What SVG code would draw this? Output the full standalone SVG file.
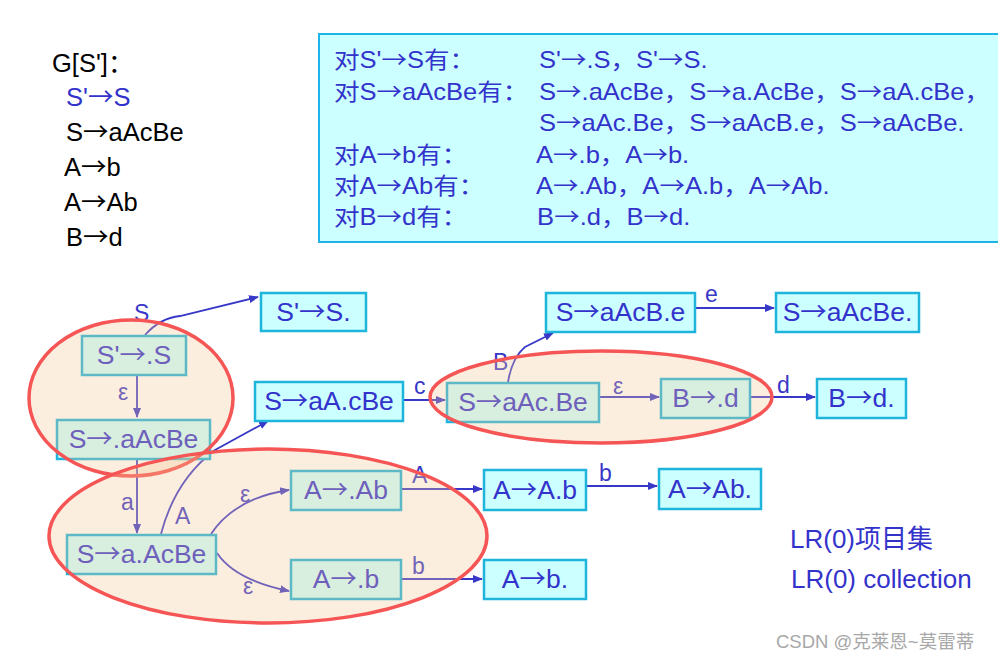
<svg xmlns="http://www.w3.org/2000/svg" width="998" height="664" viewBox="0 0 998 664">
<style>
text{font-family:"Liberation Sans","Noto Sans CJK SC",Arial,sans-serif}
.a{font-family:"Noto Sans CJK SC","DejaVu Sans",sans-serif}
.g{font-size:25.5px;fill:#000}
.p{font-size:23px;fill:#3333cc}
.box{fill:#ccffff;stroke:#1eb4dc;stroke-width:2.5}
.nt{font-size:26.5px;fill:#3333cc;text-anchor:middle}
.e{fill:none;stroke:#3838c8;stroke-width:1.8}
.lb{font-size:23px;fill:#3838c8}
.ell{fill:rgb(246,200,150);fill-opacity:0.3;stroke:#f55555;stroke-width:3.5}
</style>
<defs>
<marker id="ah" viewBox="0 0 10 10" refX="9" refY="5" markerWidth="10" markerHeight="10" markerUnits="userSpaceOnUse" orient="auto">
<path d="M0,1 L10,5 L0,9 z" fill="#3838c8"/>
</marker>
</defs>
<rect width="998" height="664" fill="#fff"/>
<g id="grammar">
<text class="g" x="52" y="72">G[S']：</text>
<text class="g" x="66" y="106" style="fill:#3333cc">S'<tspan class="a">→</tspan>S</text>
<text class="g" x="66" y="141">S<tspan class="a">→</tspan>aAcBe</text>
<text class="g" x="64" y="176">A<tspan class="a">→</tspan>b</text>
<text class="g" x="64" y="211">A<tspan class="a">→</tspan>Ab</text>
<text class="g" x="66" y="246">B<tspan class="a">→</tspan>d</text>
</g>
<g id="panel">
<rect x="319" y="34" width="690" height="208" fill="#ccffff" stroke="#1eb4e8" stroke-width="2"/>
<g transform="translate(334,0) scale(1.11,1)">
<text class="p" x="0" y="68">对S'<tspan class="a">→</tspan>S有：</text>
<text class="p" x="184.7" y="68">S'<tspan class="a">→</tspan>.S，S'<tspan class="a">→</tspan>S.</text>
<text class="p" x="0" y="100">对S<tspan class="a">→</tspan>aAcBe有：</text>
<text class="p" x="184.7" y="100">S<tspan class="a">→</tspan>.aAcBe，S<tspan class="a">→</tspan>a.AcBe，S<tspan class="a">→</tspan>aA.cBe，</text>
<text class="p" x="184.7" y="131">S<tspan class="a">→</tspan>aAc.Be，S<tspan class="a">→</tspan>aAcB.e，S<tspan class="a">→</tspan>aAcBe.</text>
<text class="p" x="0" y="163">对A<tspan class="a">→</tspan>b有：</text>
<text class="p" x="182" y="163">A<tspan class="a">→</tspan>.b，A<tspan class="a">→</tspan>b.</text>
<text class="p" x="0" y="194">对A<tspan class="a">→</tspan>Ab有：</text>
<text class="p" x="182" y="194">A<tspan class="a">→</tspan>.Ab，A<tspan class="a">→</tspan>A.b，A<tspan class="a">→</tspan>Ab.</text>
<text class="p" x="0" y="225">对B<tspan class="a">→</tspan>d有：</text>
<text class="p" x="183" y="225">B<tspan class="a">→</tspan>.d，B<tspan class="a">→</tspan>d.</text>
</g>
</g>
<g id="connectors">
<path class="e" d="M145,335 Q160,318 180,316 L258,297" marker-end="url(#ah)"/>
<text class="lb" x="134" y="321">S</text>
<path class="e" d="M137,376 L137,417" marker-end="url(#ah)"/>
<text class="lb" x="118" y="400">ε</text>
<path class="e" d="M137,460 L137,533" marker-end="url(#ah)"/>
<text class="lb" x="121" y="510">a</text>
<path class="e" d="M161,534 Q175,480 215,450 L268,421" marker-end="url(#ah)"/>
<text class="lb" x="175" y="524">A</text>
<path class="e" d="M211,534 Q235,498 289,490" marker-end="url(#ah)"/>
<text class="lb" x="240" y="502">ε</text>
<path class="e" d="M217,553 Q235,580 289,591" marker-end="url(#ah)"/>
<text class="lb" x="243" y="594">ε</text>
<path class="e" d="M401,489 L482,489" marker-end="url(#ah)"/>
<text class="lb" x="412" y="483">A</text>
<path class="e" d="M401,579 L482,579" marker-end="url(#ah)"/>
<text class="lb" x="412" y="574">b</text>
<path class="e" d="M586,486 L657,486" marker-end="url(#ah)"/>
<text class="lb" x="599" y="481">b</text>
<path class="e" d="M404,400 L445,400" marker-end="url(#ah)"/>
<text class="lb" x="414" y="394">c</text>
<path class="e" d="M508,382 Q512,358 525,347 L553,333" marker-end="url(#ah)"/>
<text class="lb" x="493" y="370">B</text>
<path class="e" d="M600,397 L659,397" marker-end="url(#ah)"/>
<text class="lb" x="613" y="394">ε</text>
<path class="e" d="M696,308 L774,308" marker-end="url(#ah)"/>
<text class="lb" x="705" y="302">e</text>
<path class="e" d="M751,397 L815,397" marker-end="url(#ah)"/>
<text class="lb" x="777" y="393">d</text>
</g>
<g id="n_Sp_S_dot"><rect class="box" x="261" y="293" width="105" height="38"/><text class="nt" x="313.5" y="321">S'<tspan class="a">→</tspan>S.</text></g>
<g id="n_Sp_dot_S"><rect class="box" x="82" y="336" width="104" height="39"/><text class="nt" x="134" y="364">S'<tspan class="a">→</tspan>.S</text></g>
<g id="n_S_dot_aAcBe"><rect class="box" x="57" y="420" width="153" height="39"/><text class="nt" x="133.5" y="448">S<tspan class="a">→</tspan>.aAcBe</text></g>
<g id="n_S_aA_dot_cBe"><rect class="box" x="255" y="382" width="148" height="39"/><text class="nt" x="329" y="410">S<tspan class="a">→</tspan>aA.cBe</text></g>
<g id="n_S_aAcB_dot_e"><rect class="box" x="546" y="293" width="149" height="39"/><text class="nt" x="620.5" y="321">S<tspan class="a">→</tspan>aAcB.e</text></g>
<g id="n_S_aAcBe_dot"><rect class="box" x="776" y="293" width="143" height="39"/><text class="nt" x="847.5" y="321">S<tspan class="a">→</tspan>aAcBe.</text></g>
<g id="n_S_aAc_dot_Be"><rect class="box" x="447" y="383" width="152" height="39"/><text class="nt" x="523" y="411">S<tspan class="a">→</tspan>aAc.Be</text></g>
<g id="n_B_dot_d"><rect class="box" x="661" y="379" width="89" height="39"/><text class="nt" x="705.5" y="407">B<tspan class="a">→</tspan>.d</text></g>
<g id="n_B_d_dot"><rect class="box" x="817" y="379" width="89" height="39"/><text class="nt" x="861.5" y="407">B<tspan class="a">→</tspan>d.</text></g>
<g id="n_A_dot_Ab"><rect class="box" x="291" y="471" width="110" height="39"/><text class="nt" x="346" y="499">A<tspan class="a">→</tspan>.Ab</text></g>
<g id="n_A_A_dot_b"><rect class="box" x="484" y="470" width="102" height="40"/><text class="nt" x="535" y="499">A<tspan class="a">→</tspan>A.b</text></g>
<g id="n_A_Ab_dot"><rect class="box" x="659" y="469" width="102" height="40"/><text class="nt" x="710" y="498">A<tspan class="a">→</tspan>Ab.</text></g>
<g id="n_S_a_dot_AcBe"><rect class="box" x="67" y="535" width="149" height="39"/><text class="nt" x="141.5" y="563">S<tspan class="a">→</tspan>a.AcBe</text></g>
<g id="n_A_dot_b"><rect class="box" x="291" y="560" width="110" height="39"/><text class="nt" x="346" y="588">A<tspan class="a">→</tspan>.b</text></g>
<g id="n_A_b_dot"><rect class="box" x="484" y="560" width="102" height="39"/><text class="nt" x="535" y="588">A<tspan class="a">→</tspan>b.</text></g>
<g id="sets">
<ellipse class="ell" cx="131" cy="398" rx="102" ry="78"/>
<ellipse class="ell" cx="268" cy="536" rx="219" ry="87"/>
<ellipse class="ell" cx="601" cy="397" rx="171" ry="46"/>
</g>
<g id="caption">
<text x="790" y="548" style="font-size:26px;fill:#3333cc">LR(0)项目集</text>
<text x="791" y="588" style="font-size:26px;fill:#3333cc">LR(0) collection</text>
<text x="776" y="648" style="font-size:18.5px;fill:#a8a8a8">CSDN @克莱恩~莫雷蒂</text>
</g>
</svg>
